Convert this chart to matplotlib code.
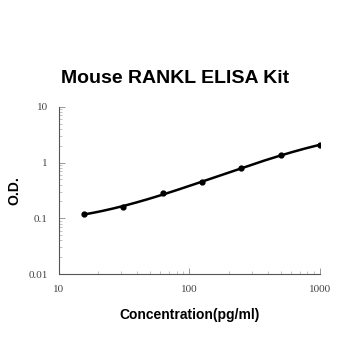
import numpy as np
import matplotlib.pyplot as plt

# standard curve points
conc = [15.6, 31.25, 62.5, 125, 250, 500, 1000]
od = [0.119, 0.157, 0.286, 0.44, 0.79, 1.34, 2.08]

xticks = [10, 100, 1000]
yticks = [0.01, 0.1, 1, 10]

fig = plt.figure(figsize=(3.5, 3.5), dpi=100)
ax = fig.add_axes([0.168, 0.217, 0.746, 0.478])

# smooth fit in log-log space
lx = np.log10(conc)
ly = np.log10(od)
coef = np.polyfit(lx, ly, 3)
xs = np.linspace(lx[0], lx[-1], 200)
ax.plot(10 ** xs, 10 ** np.polyval(coef, xs), color='black', lw=1.8)
ax.plot(conc, od, 'o', color='black', ms=3.5)

ax.set_xscale('log')
ax.set_yscale('log')
ax.set_xlim(10, 1000)
ax.set_ylim(0.01, 10)
ax.set_xticks(xticks)
ax.set_xticklabels([str(t) for t in xticks])
ax.set_yticks(yticks)
ax.set_yticklabels(['0.01', '0.1', '1', '10'])

for s in ['top', 'right']:
    ax.spines[s].set_visible(False)
for s in ['left', 'bottom']:
    ax.spines[s].set_color('#555555')
    ax.spines[s].set_linewidth(0.8)

ax.tick_params(which='major', direction='in', length=4, width=0.6,
               color='#888888', labelsize=8, labelcolor='#444444', pad=8)
ax.tick_params(which='minor', direction='in', length=2.5, width=0.5,
               color='#aaaaaa')
for lab in ax.get_xticklabels() + ax.get_yticklabels():
    lab.set_family('Liberation Serif')

ax.set_xlabel('Concentration(pg/ml)', fontsize=10, fontweight='bold',
              family='Liberation Sans', labelpad=10)
ax.set_ylabel('O.D.', fontsize=10, fontweight='bold',
              family='Liberation Sans', labelpad=5)
fig.text(0.5, 0.775, 'Mouse RANKL ELISA Kit', ha='center', va='center',
         fontsize=14, fontweight='bold', family='Liberation Sans')

fig.savefig('out.png', dpi=100)
